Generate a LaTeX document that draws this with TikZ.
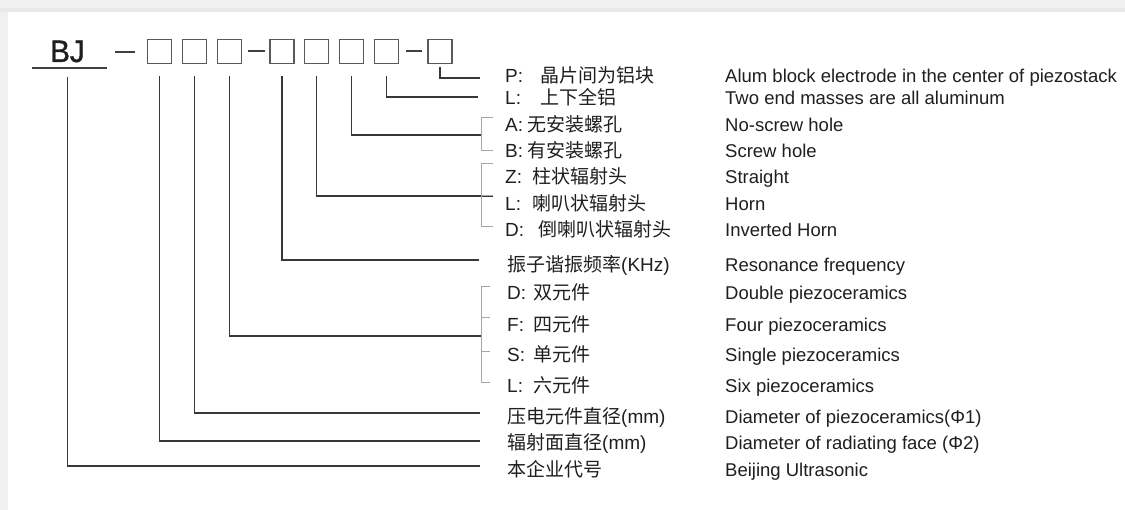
\documentclass[tikz,border=0pt]{standalone}
\usepackage{fontspec}
\setmainfont{Liberation Sans}
\newfontfamily\cjk{Noto Sans CJK SC}
\newfontfamily\bjfont[FakeBold=1.2]{Liberation Sans}
\begin{document}
\begin{tikzpicture}[x=1pt,y=-1pt,
  conn/.style={draw=black!78, line width=1.8pt},
  brk/.style={draw=black!35, line width=1pt},
  codebox/.style={draw=black!65, line width=1.6pt, minimum size=24pt, inner sep=0pt},
  dashln/.style={draw=black!75, line width=2.4pt},
  lbl/.style={anchor=base west, inner sep=0pt, font=\fontsize{19}{22}\selectfont, text=black!88},
  en/.style={anchor=base west, inner sep=0pt, font=\fontsize{18.5}{22}\selectfont, text=black!88}]
% background and card
\fill[black!6] (0,0) rectangle (1125,510);
\fill[black!9] (0,8) rectangle (1125,12);
\fill[white] (8,12) rectangle (1125,510);
\useasboundingbox (0,0) rectangle (1125,510);
% code line
\node[anchor=base, inner sep=0pt, font=\bjfont\fontsize{31}{34}\selectfont, text=black!88] (bj) at (67.5,62) {\scalebox{0.95}[1]{BJ}};
\draw[line width=2pt, black!75] (32,68) -- (107,68);
\draw[dashln] (115,52) -- (135,52);
\draw[dashln] (248,51) -- (265,51);
\draw[dashln] (406,51) -- (422,51);
\node[codebox] (b1) at (159.5,51.5) {};
\node[codebox] (b2) at (194.5,51.5) {};
\node[codebox] (b3) at (229.5,51.5) {};
\node[codebox] (b4) at (282,51.5) {};
\node[codebox] (b5) at (316.5,51.5) {};
\node[codebox] (b6) at (351.5,51.5) {};
\node[codebox] (b7) at (386.5,51.5) {};
\node[codebox] (b8) at (440,51.5) {};
% connector ends
\coordinate (e8) at (480,78);
\coordinate (e7) at (478,97);
\coordinate (e6) at (481,135);
\coordinate (e5) at (493,196);
\coordinate (e4) at (479,260);
\coordinate (e3) at (481,336);
\coordinate (e2) at (480,413);
\coordinate (e1) at (480,441);
\coordinate (e0) at (480,466);
\draw[conn] ([yshift=-3pt]b8.south) |- (e8);
\draw[conn] ([yshift=-12pt]b7.south) |- (e7);
\draw[conn] ([yshift=-12pt]b6.south) |- (e6);
\draw[conn] ([yshift=-12pt]b5.south) |- (e5);
\draw[conn] ([yshift=-12pt]b4.south) |- (e4);
\draw[conn] ([yshift=-12pt]b3.south) |- (e3);
\draw[conn] ([yshift=-12pt]b2.south) |- (e2);
\draw[conn] ([yshift=-12pt]b1.south) |- (e1);
\draw[conn] ([yshift=-15pt]bj.base) |- (e0);
% brackets
\draw[brk] (493,118) -- (481,118) -- (481,151) -- (493,151);
\draw[brk] (493,164) -- (481,164) -- (481,227) -- (493,227);
\draw[brk] (481,196) -- (493,196);
\draw[brk] (490,287) -- (481,287) -- (481,383) -- (490,383);
\draw[brk] (481,318) -- (490,318);
\draw[brk] (481,352) -- (490,352);
% Chinese labels
\node[lbl] (l1) at (505,83) {\makebox[35pt][l]{P:}{\cjk 晶片间为铝块}};
\node[lbl] (l2) at (505,105) {\makebox[35pt][l]{L:}{\cjk 上下全铝}};
\node[lbl] (l3) at (505,132) {\makebox[22pt][l]{A:}{\cjk 无安装螺孔}};
\node[lbl] (l4) at (505,158) {\makebox[22pt][l]{B:}{\cjk 有安装螺孔}};
\node[lbl] (l5) at (505,184) {\makebox[27pt][l]{Z:}{\cjk 柱状辐射头}};
\node[lbl] (l6) at (505,211) {\makebox[27pt][l]{L:}{\cjk 喇叭状辐射头}};
\node[lbl] (l7) at (505,237) {\makebox[33pt][l]{D:}{\cjk 倒喇叭状辐射头}};
\node[lbl] (l8) at (507,272) {{\cjk 振子谐振频率}(KHz)};
\node[lbl] (l9) at (507,300) {\makebox[26pt][l]{D:}{\cjk 双元件}};
\node[lbl] (l10) at (507,332) {\makebox[26pt][l]{F:}{\cjk 四元件}};
\node[lbl] (l11) at (507,362) {\makebox[26pt][l]{S:}{\cjk 单元件}};
\node[lbl] (l12) at (507,393) {\makebox[26pt][l]{L:}{\cjk 六元件}};
\node[lbl] (l13) at (507,424) {{\cjk 压电元件直径}(mm)};
\node[lbl] (l14) at (507,450) {{\cjk 辐射面直径}(mm)};
\node[lbl] (l15) at (507,476) {{\cjk 本企业代号}};
% English labels
\node[en] (r1) at (725,83) {Alum block electrode in the center of piezostack};
\node[en] (r2) at (725,105) {Two end masses are all aluminum};
\node[en] (r3) at (725,132) {No-screw hole};
\node[en] (r4) at (725,158) {Screw hole};
\node[en] (r5) at (725,184) {Straight};
\node[en] (r6) at (725,211) {Horn};
\node[en] (r7) at (725,237) {Inverted Horn};
\node[en] (r8) at (725,272) {Resonance frequency};
\node[en] (r9) at (725,300) {Double piezoceramics};
\node[en] (r10) at (725,332) {Four piezoceramics};
\node[en] (r11) at (725,362) {Single piezoceramics};
\node[en] (r12) at (725,393) {Six piezoceramics};
\node[en] (r13) at (725,424) {Diameter of piezoceramics(Φ1)};
\node[en] (r14) at (725,450) {Diameter of radiating face (Φ2)};
\node[en] (r15) at (725,476) {Beijing Ultrasonic};
\end{tikzpicture}
\end{document}
